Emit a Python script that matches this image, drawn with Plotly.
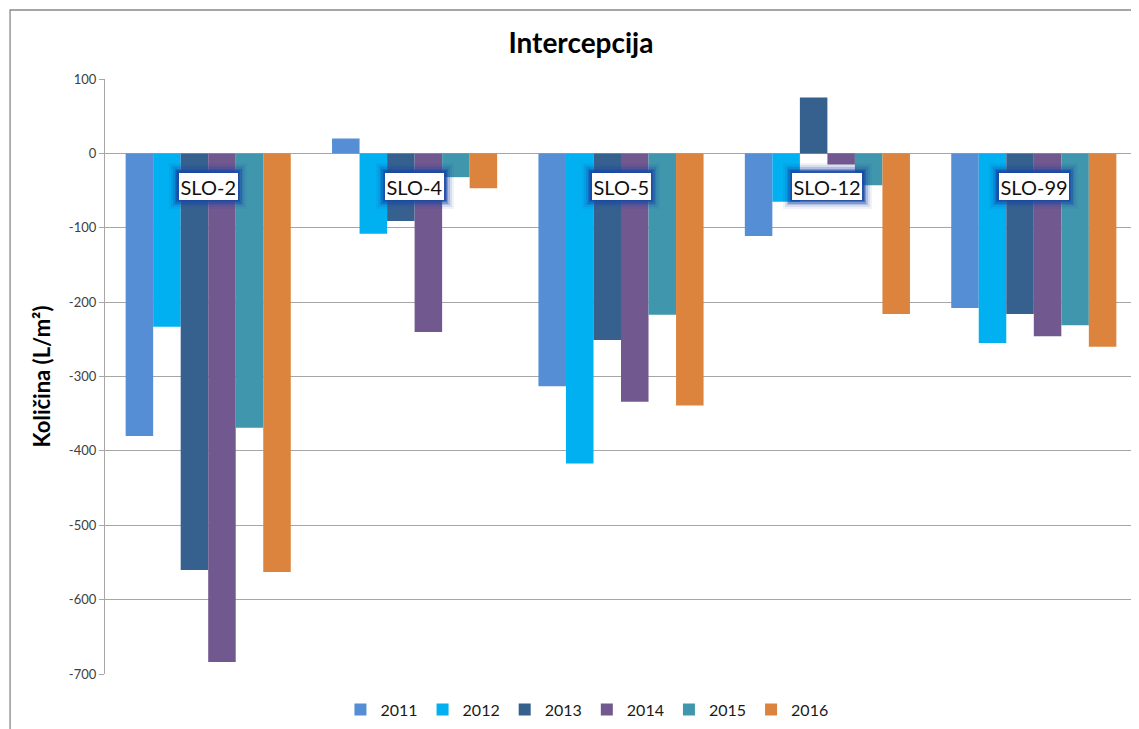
import plotly.graph_objects as go

categories = ["SLO-2", "SLO-4", "SLO-5", "SLO-12", "SLO-99"]
years = ["2011", "2012", "2013", "2014", "2015", "2016"]
v2011 = [-380, 20, -313, -111, -208]
v2012 = [-233, -108, -417, -65, -255]
v2013 = [-560, -91, -251, 75, -216]
v2014 = [-684, -240, -334, -15, -246]
v2015 = [-369, -32, -217, -43, -231]
v2016 = [-563, -47, -339, -216, -260]
series = [v2011, v2012, v2013, v2014, v2015, v2016]
colors = ["#558ED5", "#00B0F0", "#36618F", "#71588F", "#4097AD", "#DC843D"]
tick_vals = [100, 0, -100, -200, -300, -400, -500, -600, -700]
tick_text = ["100", "0", "-100", "-200", "-300", "-400", "-500", "-600", "-700"]
label_y = -44

FONT = "Lato"

fig = go.Figure()
for name, vals, col in zip(years, series, colors):
    fig.add_trace(go.Bar(x=categories, y=vals, name=name,
                         marker=dict(color=col, line=dict(width=0))))

annotations = []
for cat in categories:
    for pad, alpha in [(11, 0.07), (9, 0.12), (7, 0.2), (5.5, 0.32), (4, 0.5), (3, 0.7)]:
        annotations.append(dict(x=cat, y=label_y, xref="x", yref="y", text=cat,
                                showarrow=False, font=dict(family=FONT, size=20, color="rgba(0,0,0,0)"),
                                bgcolor=f"rgba(25,72,165,{alpha})", borderpad=pad, borderwidth=0))
    annotations.append(dict(x=cat, y=label_y, xref="x", yref="y", text=cat,
                            showarrow=False, font=dict(family=FONT, size=20, color="#111111"),
                            bgcolor="white", borderpad=1.5, borderwidth=0))

fig.update_layout(
    width=1139, height=729,
    paper_bgcolor="white", plot_bgcolor="white",
    margin=dict(l=97, r=10, t=71, b=63, autoexpand=False),
    barmode="group", bargap=0.2, bargroupgap=0,
    title=dict(text="<b>Intercepcija</b>", x=0.503, xanchor="center", y=0.952, yanchor="middle",
               font=dict(family=FONT, size=28, color="#000000")),
    xaxis=dict(showticklabels=False, showgrid=False, zeroline=False, showline=False, ticks=""),
    yaxis=dict(range=[-700, 100], tickvals=tick_vals, ticktext=tick_text,
               showgrid=True, gridcolor="#A6A6A6", gridwidth=1.3,
               zeroline=False, showline=True, linecolor="#A6A6A6", linewidth=1.3,
               ticks="outside", ticklen=5, tickcolor="#A6A6A6",
               tickfont=dict(family=FONT, size=13, color="#404040"),
               automargin=False,
               title=dict(text="<b>Količina (L/m²)</b>", font=dict(family=FONT, size=22, color="#000000"),
                          standoff=12)),
    legend=dict(orientation="h", x=0.467, xanchor="center", y=-0.06, yanchor="middle",
                font=dict(family=FONT, size=16, color="#1a1a1a"), itemwidth=30,
                traceorder="normal"),
    annotations=annotations,
    shapes=[dict(type="path", xref="paper", yref="paper",
                 path="M -0.092,-0.2 L -0.092,1.116 L 1.05,1.116",
                 line=dict(color="#888888", width=1.3))],
)

fig.write_html("out.html")
